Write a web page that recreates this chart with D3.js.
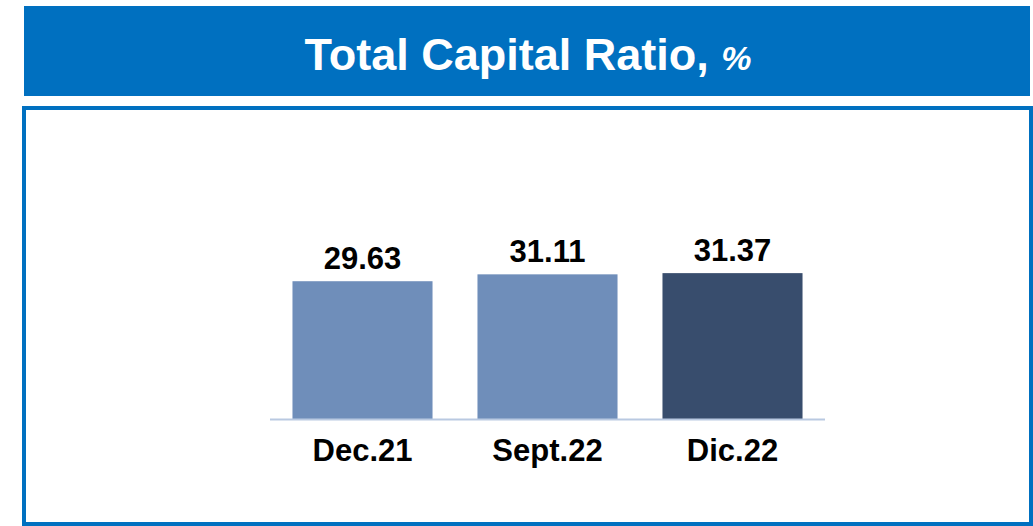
<!DOCTYPE html>
<html>
<head>
<meta charset="utf-8">
<script src="https://cdn.jsdelivr.net/npm/d3@7"></script>
<style>
  body { margin: 0; background: #fff; }
  svg { display: block; font-family: "Liberation Sans", Arial, sans-serif; }
</style>
</head>
<body>
<div id="chart"></div>
<script>
'use strict';
const categories = ['Dec.21', 'Sept.22', 'Dic.22'];
const values = [29.63, 31.11, 31.37];
const barColors = ['#6f8eba', '#6f8eba', '#384d6d'];

((d3) => {
    const width = 1033;
    const height = 526;

    const svg = d3.select('#chart')
        .append('svg')
        .attr('width', width)
        .attr('height', height);

//title band
    svg.append('rect')
        .attr('x', 24).attr('y', 6)
        .attr('width', 1006).attr('height', 90)
        .attr('fill', '#0070c0');

    const title = svg.append('text')
        .attr('x', 528).attr('y', 70)
        .attr('text-anchor', 'middle')
        .attr('fill', '#fff')
        .attr('font-weight', 'bold');
    title.append('tspan').attr('font-size', 45).text('Total Capital Ratio, ');
    title.append('tspan').attr('font-size', 34).attr('font-style', 'italic').text('%');

//frame
    svg.append('rect')
        .attr('x', 24).attr('y', 108)
        .attr('width', 1007).attr('height', 416)
        .attr('fill', 'none')
        .attr('stroke', '#0070c0')
        .attr('stroke-width', 4);

//scales
    const x = d3.scaleBand()
        .domain(categories)
        .range([270, 825])
        .paddingInner(0.243)
        .paddingOuter(0.1215);

    const y = d3.scaleLinear()
        .domain([0, 40])
        .range([419, 233]);

//bars
    svg.selectAll('.bar')
        .data(values)
        .enter()
        .append('rect')
        .attr('class', 'bar')
        .attr('x', (d, i) => x(categories[i]))
        .attr('y', (d) => y(d))
        .attr('width', x.bandwidth())
        .attr('height', (d) => y(0) - y(d))
        .attr('fill', (d, i) => barColors[i]);

//baseline
    svg.append('line')
        .attr('x1', 270).attr('x2', 825)
        .attr('y1', y(0) + 0.5).attr('y2', y(0) + 0.5)
        .attr('stroke', '#b9c9e1')
        .attr('stroke-width', 2);

//value labels
    svg.selectAll('.val')
        .data(values)
        .enter()
        .append('text')
        .attr('class', 'val')
        .attr('x', (d, i) => x(categories[i]) + x.bandwidth() / 2)
        .attr('y', (d) => y(d) - 12)
        .attr('text-anchor', 'middle')
        .attr('font-size', 31)
        .attr('font-weight', 'bold')
        .attr('fill', '#000')
        .text((d) => d.toFixed(2));

//category labels
    const xAxis = svg.append('g')
        .attr('transform', 'translate(0,' + y(0) + ')')
        .call(d3.axisBottom(x).tickSize(0).tickPadding(20));
    xAxis.select('.domain').remove();
    xAxis.selectAll('text')
        .attr('font-size', 31)
        .attr('font-weight', 'bold')
        .attr('font-family', '"Liberation Sans", Arial, sans-serif')
        .attr('fill', '#000')
        .attr('dy', '0.71em');

})(window.d3);
</script>
</body>
</html>
